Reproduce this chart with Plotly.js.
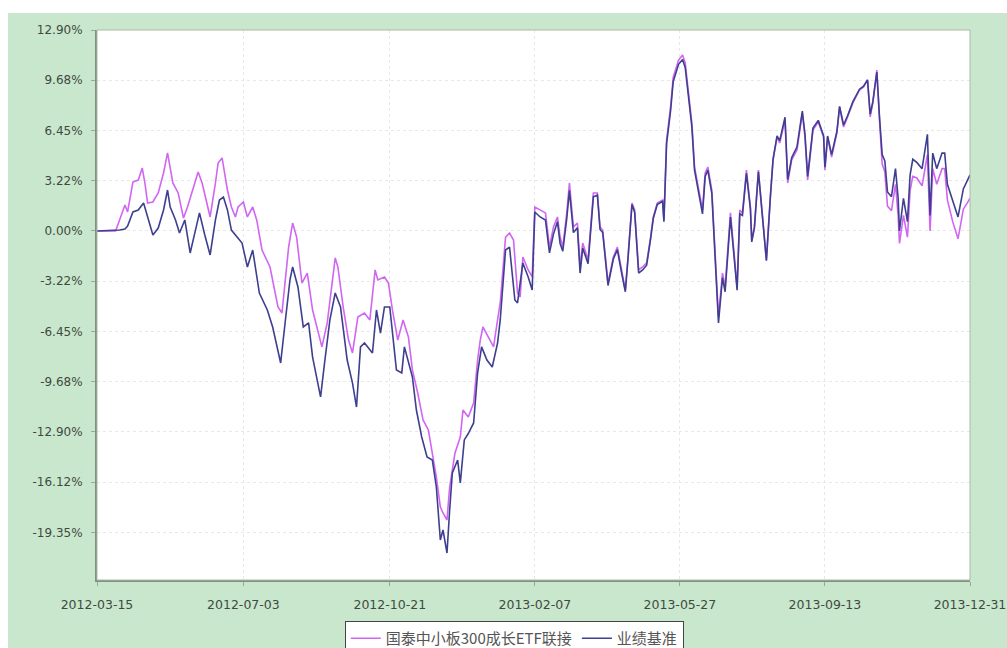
<!DOCTYPE html>
<html><head><meta charset="utf-8">
<script src="https://cdn.plot.ly/plotly-3.0.1.min.js"></script>
<style>
html,body{margin:0;padding:0;background:#fff;}
#wrap{position:relative;width:1007px;height:648px;overflow:hidden;}
#bg{position:absolute;left:8px;top:13px;right:0;bottom:0;background:#c9e7cd;}
#chart{position:absolute;left:0;top:0;width:1007px;height:648px;}
</style></head>
<body><div id="wrap"><div id="bg"></div><div id="chart"></div></div>
<script>
const fundName = "国泰中小板300成长ETF联接";
const benchName = "业绩基准";
const xTickDates = ["2012-03-15","2012-07-03","2012-10-21","2013-02-07","2013-05-27","2013-09-13","2013-12-31"];
const yTickVals = [12.9, 9.675, 6.45, 3.225, 0, -3.225, -6.45, -9.675, -12.9, -16.125, -19.35];
const yTickText = ["12.90%","9.68%","6.45%","3.22%","0.00%","-3.22%","-6.45%","-9.68%","-12.90%","-16.12%","-19.35%"];

const fundDates = ["2012-03-15","2012-03-29","2012-04-05","2012-04-07","2012-04-11","2012-04-15","2012-04-18","2012-04-20","2012-04-22","2012-04-26","2012-04-30","2012-05-04","2012-05-07","2012-05-09","2012-05-11","2012-05-15","2012-05-19","2012-05-22","2012-05-26","2012-05-30","2012-06-02","2012-06-06","2012-06-08","2012-06-12","2012-06-14","2012-06-17","2012-06-21","2012-06-24","2012-06-27","2012-06-29","2012-07-03","2012-07-06","2012-07-10","2012-07-13","2012-07-17","2012-07-23","2012-07-29","2012-08-01","2012-08-06","2012-08-09","2012-08-12","2012-08-16","2012-08-20","2012-08-24","2012-08-27","2012-08-31","2012-09-04","2012-09-08","2012-09-10","2012-09-12","2012-09-16","2012-09-20","2012-09-23","2012-09-27","2012-10-02","2012-10-06","2012-10-10","2012-10-12","2012-10-17","2012-10-20","2012-10-23","2012-10-27","2012-10-31","2012-11-04","2012-11-07","2012-11-11","2012-11-15","2012-11-19","2012-11-22","2012-11-25","2012-11-28","2012-11-30","2012-12-03","2012-12-05","2012-12-09","2012-12-13","2012-12-15","2012-12-19","2012-12-23","2012-12-26","2012-12-28","2012-12-30","2013-01-03","2013-01-07","2013-01-10","2013-01-12","2013-01-16","2013-01-19","2013-01-22","2013-01-25","2013-01-27","2013-01-29","2013-02-02","2013-02-05","2013-02-07","2013-02-11","2013-02-15","2013-02-18","2013-02-21","2013-02-24","2013-02-26","2013-02-28","2013-03-03","2013-03-05","2013-03-08","2013-03-11","2013-03-13","2013-03-15","2013-03-19","2013-03-23","2013-03-26","2013-03-28","2013-03-30","2013-04-03","2013-04-07","2013-04-10","2013-04-13","2013-04-16","2013-04-18","2013-04-21","2013-04-23","2013-04-26","2013-04-29","2013-05-02","2013-05-05","2013-05-07","2013-05-10","2013-05-14","2013-05-15","2013-05-17","2013-05-20","2013-05-22","2013-05-26","2013-05-29","2013-05-31","2013-06-02","2013-06-05","2013-06-07","2013-06-10","2013-06-13","2013-06-15","2013-06-17","2013-06-20","2013-06-22","2013-06-25","2013-06-28","2013-06-30","2013-07-04","2013-07-06","2013-07-09","2013-07-11","2013-07-13","2013-07-16","2013-07-19","2013-07-20","2013-07-22","2013-07-25","2013-07-28","2013-07-31","2013-08-03","2013-08-05","2013-08-08","2013-08-10","2013-08-14","2013-08-16","2013-08-19","2013-08-23","2013-08-27","2013-08-29","2013-08-31","2013-09-02","2013-09-04","2013-09-08","2013-09-12","2013-09-13","2013-09-15","2013-09-18","2013-09-22","2013-09-24","2013-09-27","2013-09-30","2013-10-04","2013-10-09","2013-10-12","2013-10-15","2013-10-17","2013-10-19","2013-10-22","2013-10-24","2013-10-26","2013-10-28","2013-10-30","2013-11-02","2013-11-05","2013-11-07","2013-11-08","2013-11-11","2013-11-14","2013-11-16","2013-11-18","2013-11-21","2013-11-25","2013-11-29","2013-12-01","2013-12-03","2013-12-06","2013-12-10","2013-12-12","2013-12-14","2013-12-18","2013-12-22","2013-12-26","2013-12-29","2013-12-31"];
const fundValues = [0,0,1.67,1.22,3.14,3.27,4.04,3.08,1.80,1.86,2.44,3.72,5.01,3.91,3.08,2.44,0.83,1.54,2.63,3.79,3.08,1.54,0.90,3.08,4.36,4.69,2.63,1.54,0.90,1.54,1.86,0.90,1.54,0.71,-1.22,-2.31,-4.88,-5.26,-1.03,0.51,-0.39,-3.34,-2.70,-5.07,-6.16,-7.44,-5.90,-3.14,-1.73,-2.31,-4.88,-7.00,-7.83,-5.52,-5.26,-5.71,-2.50,-3.14,-2.95,-3.34,-5.07,-7.00,-5.71,-6.80,-8.92,-10.40,-12.13,-12.77,-14.25,-15.79,-17.71,-18.10,-18.55,-16.43,-14.25,-13.22,-11.49,-11.94,-11.04,-8.28,-7.00,-6.16,-6.80,-7.44,-5.71,-4.62,-0.39,-0.13,-0.58,-3.98,-4.24,-1.67,-2.50,-2.95,1.54,1.35,1.16,-1.03,0.26,0.90,-0.39,-1.03,1.16,3.08,0.26,0.51,-2.31,-0.77,-1.86,2.44,2.44,0.26,0.06,-3.34,-1.67,-1.03,-2.50,-3.79,-1.67,1.80,1.35,-2.50,-2.31,-2.05,-0.39,0.90,1.80,1.99,0.71,5.84,7.96,9.88,10.97,11.30,10.78,9.05,6.93,4.11,2.63,1.35,3.72,4.11,2.63,-0.58,-5.52,-2.70,-3.59,1.16,-0.58,-3.59,1.35,1.16,3.91,1.54,-0.58,0.26,3.91,0.90,-1.86,2.18,4.56,6.03,5.65,7.12,3.08,4.56,5.20,7.57,6.03,3.27,4.75,6.48,7.00,6.03,3.91,6.03,4.75,6.29,7.96,6.67,7.32,8.22,9.05,9.24,9.69,7.32,8.22,10.33,7.12,4.30,3.80,1.60,1.30,3.00,1.00,-0.80,1.00,-0.40,2.60,3.50,3.40,2.90,4.90,0.00,4.00,3.00,4.00,4.00,2.00,0.60,-0.50,1.40,1.80,2.10];

const benchDates = ["2012-03-15","2012-04-01","2012-04-05","2012-04-07","2012-04-11","2012-04-15","2012-04-19","2012-04-22","2012-04-26","2012-04-30","2012-05-04","2012-05-07","2012-05-09","2012-05-13","2012-05-16","2012-05-20","2012-05-24","2012-05-28","2012-05-31","2012-06-04","2012-06-08","2012-06-12","2012-06-15","2012-06-18","2012-06-21","2012-06-24","2012-06-28","2012-07-02","2012-07-06","2012-07-10","2012-07-15","2012-07-21","2012-07-25","2012-07-31","2012-08-03","2012-08-07","2012-08-09","2012-08-13","2012-08-17","2012-08-21","2012-08-24","2012-08-30","2012-09-02","2012-09-06","2012-09-10","2012-09-14","2012-09-19","2012-09-23","2012-09-26","2012-09-29","2012-10-02","2012-10-08","2012-10-11","2012-10-14","2012-10-17","2012-10-21","2012-10-26","2012-10-30","2012-11-01","2012-11-07","2012-11-10","2012-11-14","2012-11-18","2012-11-22","2012-11-25","2012-11-28","2012-11-30","2012-12-03","2012-12-05","2012-12-07","2012-12-11","2012-12-13","2012-12-16","2012-12-19","2012-12-23","2012-12-26","2012-12-29","2013-01-02","2013-01-06","2013-01-10","2013-01-12","2013-01-16","2013-01-19","2013-01-23","2013-01-25","2013-01-29","2013-02-02","2013-02-05","2013-02-07","2013-02-11","2013-02-15","2013-02-18","2013-02-21","2013-02-24","2013-02-26","2013-02-28","2013-03-03","2013-03-05","2013-03-08","2013-03-11","2013-03-13","2013-03-15","2013-03-19","2013-03-23","2013-03-26","2013-03-28","2013-03-30","2013-04-03","2013-04-07","2013-04-10","2013-04-13","2013-04-16","2013-04-18","2013-04-21","2013-04-23","2013-04-26","2013-04-29","2013-05-02","2013-05-05","2013-05-07","2013-05-10","2013-05-14","2013-05-15","2013-05-17","2013-05-20","2013-05-22","2013-05-26","2013-05-29","2013-05-31","2013-06-02","2013-06-05","2013-06-07","2013-06-10","2013-06-13","2013-06-15","2013-06-17","2013-06-20","2013-06-22","2013-06-25","2013-06-28","2013-06-30","2013-07-04","2013-07-06","2013-07-09","2013-07-11","2013-07-13","2013-07-16","2013-07-19","2013-07-20","2013-07-22","2013-07-25","2013-07-28","2013-07-31","2013-08-03","2013-08-05","2013-08-08","2013-08-10","2013-08-14","2013-08-16","2013-08-19","2013-08-23","2013-08-27","2013-08-29","2013-08-31","2013-09-02","2013-09-04","2013-09-08","2013-09-12","2013-09-13","2013-09-15","2013-09-18","2013-09-22","2013-09-24","2013-09-27","2013-09-30","2013-10-04","2013-10-09","2013-10-12","2013-10-15","2013-10-17","2013-10-19","2013-10-22","2013-10-24","2013-10-26","2013-10-28","2013-10-30","2013-11-02","2013-11-05","2013-11-07","2013-11-08","2013-11-11","2013-11-14","2013-11-16","2013-11-18","2013-11-21","2013-11-25","2013-11-29","2013-12-01","2013-12-03","2013-12-06","2013-12-10","2013-12-12","2013-12-14","2013-12-18","2013-12-22","2013-12-26","2013-12-29","2013-12-31"];
const benchValues = [0,0.06,0.13,0.32,1.22,1.35,1.80,0.90,-0.26,0.19,1.35,2.63,1.54,0.71,-0.13,0.71,-1.41,0.06,1.16,-0.26,-1.54,0.71,1.99,2.18,1.35,0.06,-0.39,-0.77,-2.31,-1.22,-3.98,-5.07,-6.16,-8.47,-6.16,-3.14,-2.31,-3.59,-6.16,-5.90,-8.09,-10.65,-8.47,-5.71,-3.98,-4.88,-8.28,-9.76,-11.30,-7.44,-7.19,-7.83,-5.07,-6.55,-4.88,-4.88,-8.92,-9.11,-7.44,-9.37,-11.49,-13.22,-14.50,-14.70,-16.43,-19.83,-19.19,-20.67,-17.91,-15.53,-14.70,-16.17,-13.41,-13.00,-12.32,-9.11,-7.44,-8.28,-8.73,-7.19,-5.71,-1.22,-1.03,-4.43,-4.62,-2.05,-2.95,-3.79,1.22,0.90,0.70,-1.40,-0.20,0.60,-0.80,-1.30,0.80,2.60,-0.10,0.20,-2.70,-1.10,-2.10,2.20,2.30,0.10,-0.10,-3.50,-1.80,-1.20,-2.60,-3.90,-1.80,1.70,1.20,-2.70,-2.50,-2.20,-0.50,0.80,1.70,1.90,0.60,5.60,7.70,9.60,10.70,11.00,10.50,8.80,6.70,3.90,2.40,1.10,3.50,3.90,2.40,-0.90,-5.90,-3.00,-3.90,0.90,-0.80,-3.80,1.10,1.00,3.70,1.40,-0.70,0.20,3.80,0.80,-1.90,2.20,4.60,6.10,5.80,7.30,3.30,4.70,5.40,7.70,6.20,3.50,4.90,6.60,7.10,6.10,4.10,6.10,4.90,6.40,8.00,6.80,7.40,8.30,9.10,9.30,9.70,7.50,8.30,10.20,7.30,4.90,4.50,2.50,2.20,4.00,2.10,0.00,2.10,0.60,3.60,4.60,4.40,4.00,6.20,1.00,5.00,4.00,5.00,5.00,3.00,1.90,0.90,2.70,3.30,3.60];

const traces = [
  {x: fundDates, y: fundValues, name: fundName, type: 'scatter', mode: 'lines',
   line: {color: '#d066f2', width: 1.6}},
  {x: benchDates, y: benchValues, name: benchName, type: 'scatter', mode: 'lines',
   line: {color: '#3e3f8f', width: 1.6}}
];

const layout = {
  width: 1007, height: 648,
  margin: {l: 97, r: 37, t: 30, b: 68, autoexpand: false},
  paper_bgcolor: 'rgba(0,0,0,0)',
  plot_bgcolor: '#ffffff',
  font: {family: 'DejaVu Sans, sans-serif', size: 12, color: '#3f4a3f'},
  showlegend: true,
  legend: {orientation: 'h', x: 0.478, xanchor: 'center', y: -0.0745, yanchor: 'top',
    bgcolor: '#ffffff', bordercolor: '#444444', borderwidth: 1,
    font: {family: 'Noto Sans CJK SC, sans-serif', size: 15, color: '#555555'},
    itemwidth: 30, tracegroupgap: 0},
  xaxis: {type: 'date', range: ['2012-03-15', '2013-12-31'],
    tickvals: xTickDates, ticktext: xTickDates,
    showgrid: true, gridcolor: '#e8e8e8', griddash: 'dot', gridwidth: 1,
    showline: true, linecolor: '#7e927e', linewidth: 2,
    ticks: 'outside', ticklen: 4, tickcolor: '#9aaa9a', ticklabelstandoff: 8,
    ticklabeloverflow: 'allow',
    zeroline: false, tickfont: {size: 12.5, color: '#3f4a3f'}, fixedrange: true},
  yaxis: {range: [-22.4, 12.9], tickvals: yTickVals, ticktext: yTickText,
    showgrid: true, gridcolor: '#e8e8e8', griddash: 'dot', gridwidth: 1,
    showline: true, linecolor: '#7e927e', linewidth: 2,
    ticks: 'outside', ticklen: 4, tickcolor: '#9aaa9a', ticklabelstandoff: 6,
    zeroline: false, tickfont: {size: 12, color: '#3f4a3f'}, fixedrange: true},
  shapes: [{type: 'rect', xref: 'paper', yref: 'paper', x0: 0, x1: 1, y0: 0, y1: 1,
    line: {color: '#a9b9a9', width: 1}, fillcolor: 'rgba(0,0,0,0)', layer: 'above'}]
};

Plotly.newPlot('chart', traces, layout, {displayModeBar: false, staticPlot: true});
</script></body></html>
